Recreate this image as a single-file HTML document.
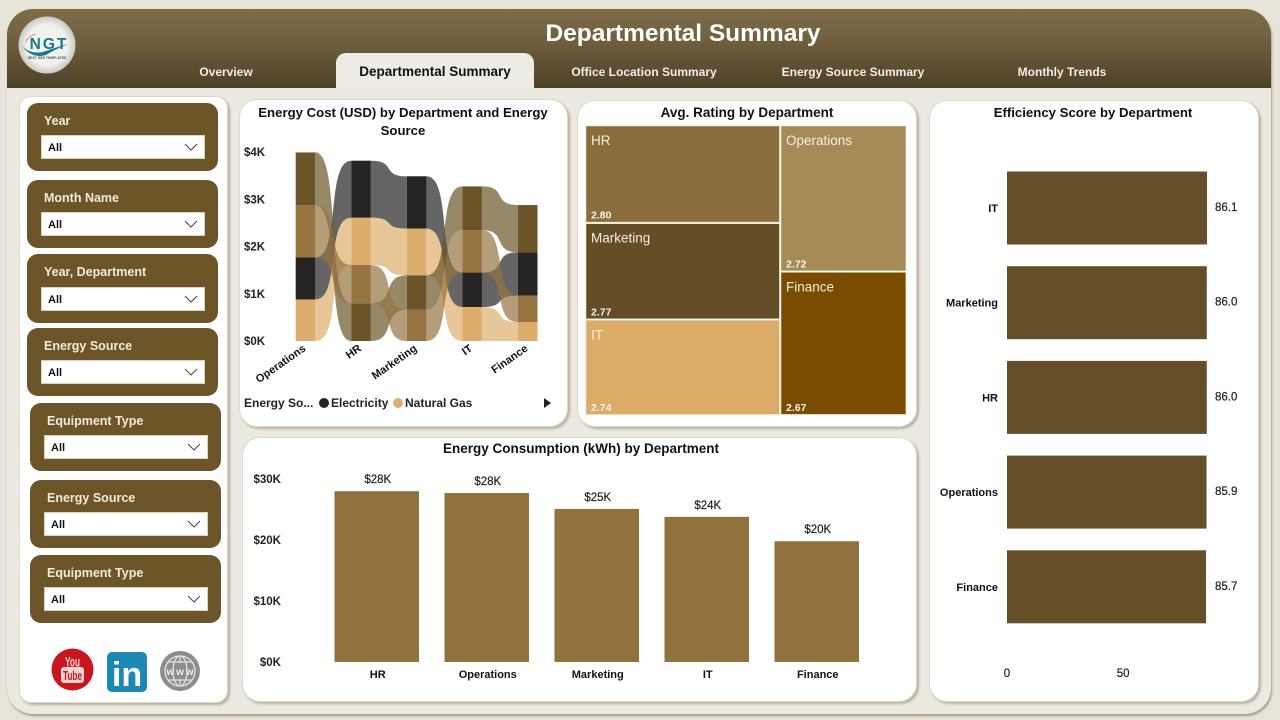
<!DOCTYPE html>
<html lang="en">
<head>
<meta charset="utf-8">
<title>Departmental Summary</title>
<style>
html,body{margin:0;padding:0;width:1280px;height:720px;overflow:hidden;background:#e6e3d8;font-family:"Liberation Sans",sans-serif}
*{box-sizing:border-box}
.abs{position:absolute}
#frame{position:absolute;left:7px;top:9px;width:1264px;height:705px;border-radius:26px;background:#ebe9e0;box-shadow:1px 2px 2px #a39b84}
#header{position:absolute;left:7px;top:9px;width:1264px;height:79px;border-radius:26px 26px 0 0;background:linear-gradient(#7d6c48,#736240 35%,#4d4127)}
#title{position:absolute;left:400px;width:566px;top:18px;text-align:center;color:#fff;font-weight:bold;font-size:24.5px;line-height:32px;white-space:nowrap}
.tab{position:absolute;top:53px;height:35px;line-height:38px;text-align:center;color:#f1eee4;font-weight:bold;font-size:12px;white-space:nowrap}
#tab2{left:336px;width:198px;background:#ecebe4;color:#111;border-radius:10px 10px 0 0;font-size:13.5px}
.card{position:absolute;background:#fff;border-radius:18px;box-shadow:2px 2px 2px #b8b29f;border:1px solid #ddd9cb}
.slicer{position:absolute;width:191px;height:68px;background:#6b5529;border-radius:11px}
.slicer .lbl{position:absolute;left:17px;top:11px;color:#f1ead9;font-weight:bold;font-size:12.5px;white-space:nowrap}
.slicer .dd{position:absolute;left:14px;top:32px;width:164px;height:24px;background:#fff;border:1px solid #e0d2b8}
.slicer .dd span{position:absolute;left:6px;top:6px;font-size:11px;font-weight:bold;color:#111}
.slicer .dd svg{position:absolute;right:6px;top:7px}
svg text{font-family:"Liberation Sans",sans-serif}
#overlay{position:absolute;left:0;top:0}
</style>
</head>
<body>
<div id="frame"></div>
<div id="header"></div>
<div id="title">Departmental Summary</div>

<svg class="abs" style="left:18px;top:16px" width="58" height="58">
  <defs><radialGradient id="lg" cx="50%" cy="50%" r="50%"><stop offset="70%" stop-color="#f2f2f0"/><stop offset="100%" stop-color="#c9c8c4"/></radialGradient></defs>
  <circle cx="29" cy="29" r="28.5" fill="url(#lg)"/>
  <text x="31" y="33" text-anchor="middle" font-size="15.5" font-weight="bold" fill="#17788a" letter-spacing="2">NGT</text>
  <path d="M4 30 Q14 40 28 35 T50 28 Q36 34 28 39 Q14 43 4 30Z" fill="#17788a"/>
  <path d="M8 26 Q10 20 18 18" stroke="#c9a65a" stroke-width="1" fill="none"/>
  <text x="29" y="43" text-anchor="middle" font-size="3.4" font-weight="bold" fill="#555">NEXT GEN TEMPLATES</text>
</svg>

<div class="tab" style="left:176px;width:100px">Overview</div>
<div class="tab" id="tab2">Departmental Summary</div>
<div class="tab" style="left:544px;width:200px">Office Location Summary</div>
<div class="tab" style="left:753px;width:200px">Energy Source Summary</div>
<div class="tab" style="left:1002px;width:120px">Monthly Trends</div>

<div class="card" style="left:19px;top:96px;width:209px;height:607px;border-radius:12px"></div>
<div class="card" style="left:239px;top:99px;width:329px;height:328px"></div>
<div class="card" style="left:577px;top:100px;width:340px;height:327px"></div>
<div class="card" style="left:929px;top:100px;width:330px;height:602px"></div>
<div class="card" style="left:242px;top:437px;width:675px;height:265px"></div>

<div class="slicer" style="left:27px;top:103px"><div class="lbl">Year</div><div class="dd"><span>All</span><svg width="14" height="8"><polyline points="1,1 7,7 13,1" fill="none" stroke="#444" stroke-width="1"/></svg></div></div>
<div class="slicer" style="left:27px;top:180px"><div class="lbl">Month Name</div><div class="dd"><span>All</span><svg width="14" height="8"><polyline points="1,1 7,7 13,1" fill="none" stroke="#444" stroke-width="1"/></svg></div></div>
<div class="slicer" style="left:27px;top:254px;height:69px"><div class="lbl">Year, Department</div><div class="dd" style="top:33px"><span>All</span><svg width="14" height="8"><polyline points="1,1 7,7 13,1" fill="none" stroke="#444" stroke-width="1"/></svg></div></div>
<div class="slicer" style="left:27px;top:328px"><div class="lbl">Energy Source</div><div class="dd"><span>All</span><svg width="14" height="8"><polyline points="1,1 7,7 13,1" fill="none" stroke="#444" stroke-width="1"/></svg></div></div>
<div class="slicer" style="left:30px;top:403px"><div class="lbl">Equipment Type</div><div class="dd"><span>All</span><svg width="14" height="8"><polyline points="1,1 7,7 13,1" fill="none" stroke="#444" stroke-width="1"/></svg></div></div>
<div class="slicer" style="left:30px;top:480px"><div class="lbl">Energy Source</div><div class="dd"><span>All</span><svg width="14" height="8"><polyline points="1,1 7,7 13,1" fill="none" stroke="#444" stroke-width="1"/></svg></div></div>
<div class="slicer" style="left:30px;top:555px"><div class="lbl">Equipment Type</div><div class="dd"><span>All</span><svg width="14" height="8"><polyline points="1,1 7,7 13,1" fill="none" stroke="#444" stroke-width="1"/></svg></div></div>

<svg class="abs" style="left:50px;top:646px" width="155" height="48">
  <g>
    <circle cx="22.5" cy="23.5" r="21" fill="#c8161f"/>
    <text x="22.5" y="20.5" text-anchor="middle" font-size="14" font-weight="bold" fill="#f6d5d5" textLength="15" lengthAdjust="spacingAndGlyphs">You</text>
    <rect x="11" y="21" width="23" height="16" rx="3" fill="#f6d5d5"/>
    <text x="22.5" y="34" text-anchor="middle" font-size="13" font-weight="bold" fill="#c8161f" textLength="19" lengthAdjust="spacingAndGlyphs">Tube</text>
  </g>
  <g>
    <rect x="57" y="6" width="40" height="40" rx="5" fill="#1d87b5"/>
    <text x="77" y="40" text-anchor="middle" font-size="34" font-weight="bold" fill="#fff">in</text>
  </g>
  <g>
    <circle cx="130" cy="25" r="20" fill="#8c8c8c"/>
    <g fill="none" stroke="#e4e4e4" stroke-width="1.3">
      <circle cx="130" cy="25" r="15"/><ellipse cx="130" cy="25" rx="7" ry="15"/>
      <path d="M130 10V17M130 33V40M118 16H142M118 34H142"/>
    </g>
    <text x="130" y="29" text-anchor="middle" font-size="10" font-weight="bold" fill="#eee" textLength="27" lengthAdjust="spacing">www</text>
  </g>
</svg>

<svg id="overlay" width="1280" height="720" style="pointer-events:none">
  <g id="ribbon">
    <text x="403" y="117" text-anchor="middle" font-size="13.2" font-weight="bold" fill="#111">Energy Cost (USD) by Department and Energy</text>
    <text x="403" y="135" text-anchor="middle" font-size="13.2" font-weight="bold" fill="#111">Source</text>
    <text x="244" y="407" font-size="12" font-weight="bold" fill="#222">Energy So...</text>
    <circle cx="324" cy="403" r="5" fill="#252423"/>
    <text x="331" y="407" font-size="12" font-weight="bold" fill="#222">Electricity</text>
    <circle cx="398" cy="403" r="5" fill="#ddae6b"/>
    <text x="405" y="407" font-size="12" font-weight="bold" fill="#222">Natural Gas</text>
    <polygon points="544,398 544,408 551,403" fill="#222"/>
  </g>
  <g id="treemap">
    <text x="747" y="117" text-anchor="middle" font-size="13.5" font-weight="bold" fill="#111">Avg. Rating by Department</text>
  </g>
  <g id="columns">
    <text x="581" y="453" text-anchor="middle" font-size="13.5" font-weight="bold" fill="#111">Energy Consumption (kWh) by Department</text>
  </g>
  <g id="hbars">
    <text x="1093" y="117" text-anchor="middle" font-size="13.2" font-weight="bold" fill="#111">Efficiency Score by Department</text>
  </g>
</svg>

<script>
// Ribbon chart data (USD thousands)
const ribbonDepartments = ["Operations", "HR", "Marketing", "IT", "Finance"];
const ribbonTicks = [0, 1, 2, 3, 4];
const electricityCost = [0.89, 1.21, 1.11, 0.73, 0.92];
const naturalGasCost = [0.88, 1.00, 0.99, 0.72, 0.40];
const darkSourceCost = [1.115, 0.80, 0.73, 0.925, 1.00];
const midSourceCost = [1.11, 0.81, 0.66, 0.90, 0.56];

// Treemap data
const ratingDepartments = ["HR", "Marketing", "IT", "Operations", "Finance"];
const ratingValues = [2.80, 2.77, 2.74, 2.72, 2.67];

// Column chart data
const consumptionDepartments = ["HR", "Operations", "Marketing", "IT", "Finance"];
const consumptionValues = [28.0, 27.7, 25.1, 23.8, 19.8];
const consumptionTicks = [0, 10, 20, 30];

// Horizontal bar chart data
const efficiencyDepartments = ["IT", "Marketing", "HR", "Operations", "Finance"];
const efficiencyValues = [86.1, 86.0, 86.0, 85.9, 85.7];
const efficiencyTicks = [0, 50];

const SVGNS = "http://www.w3.org/2000/svg";
function mk(parent, tag, attrs, txt) {
  const el = document.createElementNS(SVGNS, tag);
  for (const k in attrs) el.setAttribute(k, attrs[k]);
  if (txt !== undefined) el.textContent = txt;
  parent.appendChild(el);
  return el;
}
const slug = s => s.toLowerCase().replace(/[^a-z0-9]+/g, "-");

// ---------- Ribbon chart ----------
(function () {
  const g = document.getElementById("ribbon");
  const yCost = v => 341 - v * 47.2;
  const colX = i => 295.7 + i * 55.55;
  const colW = 19.6;
  const sources = [
    { name: "electricity", color: "#252423", vals: electricityCost },
    { name: "natural-gas", color: "#ddae6b", vals: naturalGasCost },
    { name: "dark-source", color: "#6b5528", vals: darkSourceCost },
    { name: "mid-source", color: "#957440", vals: midSourceCost }
  ];
  // Stack each department, smallest at the bottom (ribbon ranks)
  const stacks = ribbonDepartments.map((d, i) => {
    const order = sources.map((s, si) => ({ si, v: s.vals[i] })).sort((a, b) => a.v - b.v);
    const out = {};
    let base = 0;
    order.forEach(o => { out[o.si] = { lo: base, hi: base + o.v }; base += o.v; });
    return out;
  });
  ribbonTicks.forEach(t => {
    const el = mk(g, "text", { x: 244, y: yCost(t) + 4, "font-size": 11.5, "font-weight": "bold", fill: "#222" }, "$" + t + "K");
    
    
  });
  sources.forEach((s, si) => {
    for (let i = 0; i < ribbonDepartments.length - 1; i++) {
      const x0 = colX(i) + colW, x1 = colX(i + 1), w = x1 - x0;
      const c0 = x0 + w * 0.72, c1 = x1 - w * 0.72;
      const a = stacks[i][si], b = stacks[i + 1][si];
      const d = "M" + x0 + " " + yCost(a.hi) + " C" + c0 + " " + yCost(a.hi) + " " + c1 + " " + yCost(b.hi) + " " + x1 + " " + yCost(b.hi) +
        " L" + x1 + " " + yCost(b.lo) + " C" + c1 + " " + yCost(b.lo) + " " + c0 + " " + yCost(a.lo) + " " + x0 + " " + yCost(a.lo) + " Z";
      const el = mk(g, "path", { d: d, fill: s.color, "fill-opacity": 0.7 });
      
      
    }
  });
  sources.forEach((s, si) => {
    ribbonDepartments.forEach((dep, i) => {
      const a = stacks[i][si];
      const el = mk(g, "rect", { x: colX(i), y: yCost(a.hi), width: colW, height: yCost(a.lo) - yCost(a.hi), fill: s.color });
      
      
    });
  });
  ribbonDepartments.forEach((dep, i) => {
    const x = colX(i) + colW / 2 + 1, y = 350;
    const el = mk(g, "text", { x: x, y: y, "text-anchor": "end", "font-size": 11, "font-weight": "bold", fill: "#111", transform: "rotate(-35 " + x + " " + y + ")" }, dep);
    
    
  });
})();

// ---------- Treemap ----------
(function () {
  const g = document.getElementById("treemap");
  const colors = ["#8a6d3b", "#644e27", "#dbab68", "#a48a55", "#7a4c00"];
  const X = 586, Y = 126, W = 321.5, H = 290, gap = 1.6;
  const sum = a => a.reduce((p, c) => p + c, 0);
  const leftVals = ratingValues.slice(0, 3), rightVals = ratingValues.slice(3);
  const total = sum(ratingValues);
  const leftW = W * sum(leftVals) / total;
  function column(vals, offset, cx, cw) {
    let cy = Y;
    const colSum = sum(vals);
    vals.forEach((v, i) => {
      const h = H * v / colSum;
      const idx = offset + i;
      const r = mk(g, "rect", { x: cx, y: cy, width: cw - gap, height: h - gap, fill: colors[idx], stroke: "#e8d9bb", "stroke-width": 0.6 });
      
      
      const t = mk(g, "text", { x: cx + 5, y: cy + 19, "font-size": 13.5, fill: "#f5eedd" }, ratingDepartments[idx]);
      
      
      const n = mk(g, "text", { x: cx + 5, y: cy + h - 5, "font-size": 10.5, "font-weight": "bold", fill: "#f8f3e6" }, v.toFixed(2));
      
      
      cy += h;
    });
  }
  column(leftVals, 0, X, leftW);
  column(rightVals, 3, X + leftW, W - leftW);
})();

// ---------- Column chart ----------
(function () {
  const g = document.getElementById("columns");
  const yVal = v => 662 - v * 6.1;
  const xBand = i => 334.5 + i * 110;
  const bw = 84.5;
  consumptionTicks.forEach(t => {
    const el = mk(g, "text", { x: 281, y: yVal(t) + 4, "text-anchor": "end", "font-size": 11.5, "font-weight": "bold", fill: "#222" }, "$" + t + "K");
    
    
  });
  consumptionDepartments.forEach((dep, i) => {
    const v = consumptionValues[i];
    const r = mk(g, "rect", { x: xBand(i), y: yVal(v), width: bw, height: yVal(0) - yVal(v), fill: "#91723f" });
    
    
    const l = mk(g, "text", { x: xBand(i) + bw / 2 + 1, y: yVal(v) - 8, "text-anchor": "middle", "font-size": 11.5, fill: "#222", stroke: "#222", "stroke-width": 0.2 }, "$" + Math.round(v) + "K");
    
    
    const x = mk(g, "text", { x: xBand(i) + bw / 2 + 1, y: 678, "text-anchor": "middle", "font-size": 11, "font-weight": "bold", fill: "#111" }, dep);
    
    
  });
})();

// ---------- Horizontal bars ----------
(function () {
  const g = document.getElementById("hbars");
  const xVal = v => 1007 + v * 2.323;
  const yBand = i => 171.5 + i * 94.7;
  const bh = 73;
  efficiencyDepartments.forEach((dep, i) => {
    const v = efficiencyValues[i];
    const r = mk(g, "rect", { x: xVal(0), y: yBand(i), width: xVal(v) - xVal(0), height: bh, fill: "#654f28" });
    
    
    const l = mk(g, "text", { x: 998, y: yBand(i) + bh / 2 + 4, "text-anchor": "end", "font-size": 11, "font-weight": "bold", fill: "#111" }, dep);
    
    
    const n = mk(g, "text", { x: 1215, y: yBand(i) + bh / 2 + 3, "font-size": 11.5, fill: "#222", stroke: "#222", "stroke-width": 0.2 }, v.toFixed(1));
    
    
  });
  efficiencyTicks.forEach(t => {
    const el = mk(g, "text", { x: xVal(t), y: 677, "text-anchor": "middle", "font-size": 11.5, fill: "#222", stroke: "#222", "stroke-width": 0.2 }, String(t));
    
    
  });
})();
</script>
</body>
</html>
